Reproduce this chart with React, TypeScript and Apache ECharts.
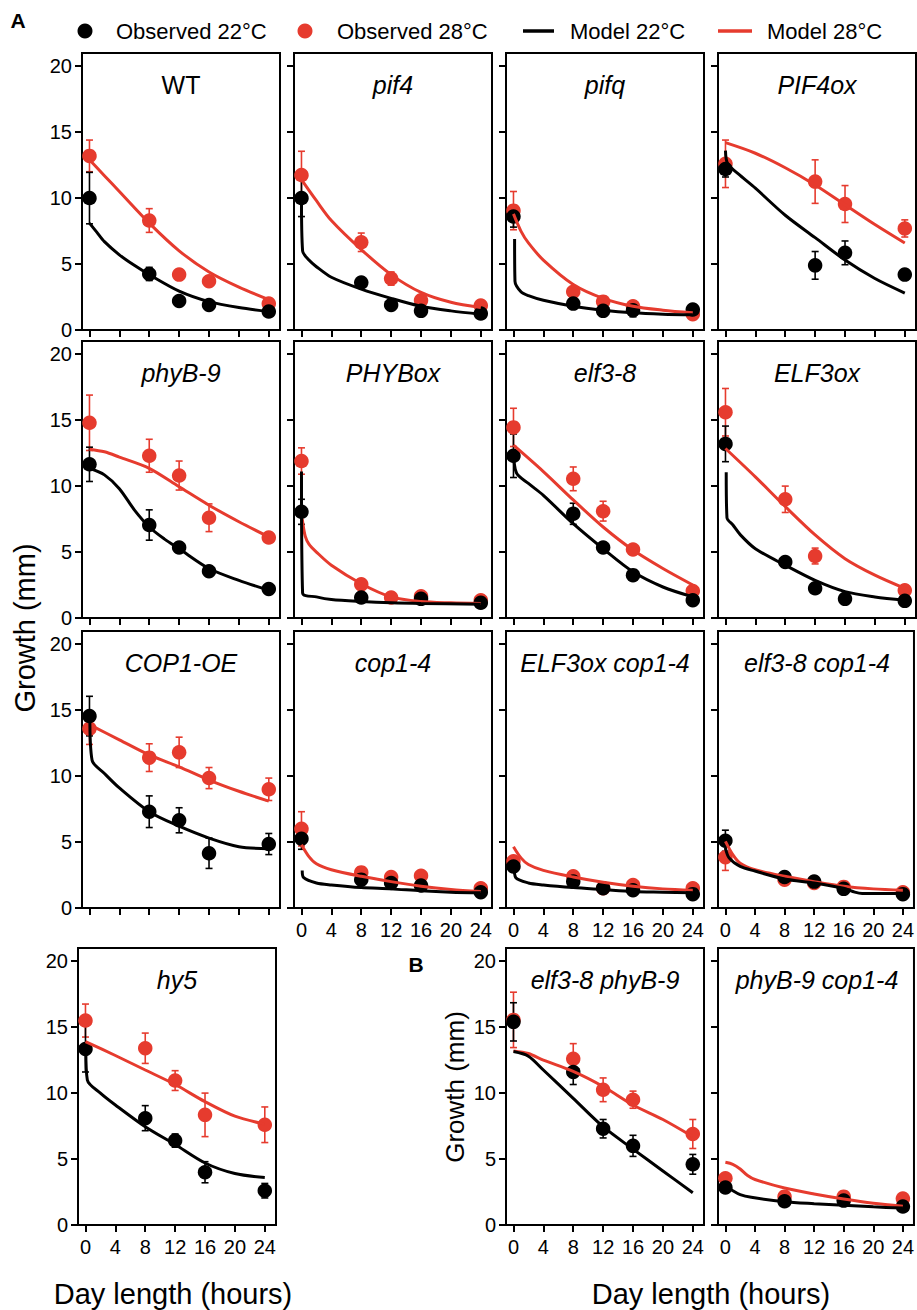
import React, { useEffect, useRef } from "react";
import * as echarts from "echarts";

const FONT = '"Liberation Sans", Arial, Helvetica, sans-serif';
const RED = "#E63B2E";
const BLACK = "#000000";

// ---------- shared axis data ----------
const obsHours = [0, 8, 12, 16, 24];
const xTickValues = [0, 4, 8, 12, 16, 20, 24];
const yTickValues = [0, 5, 10, 15, 20];
const legendLabels = ["Observed 22°C", "Observed 28°C", "Model 22°C", "Model 28°C"];
const xAxisTitle = "Day length (hours)";
const yAxisTitle = "Growth (mm)";

// ---------- WT ----------
const wtObs22 = [10.0, 4.25, 2.2, 1.9, 1.4];
const wtErr22 = [1.95, 0.5, 0, 0, 0];
const wtObs28 = [13.2, 8.3, 4.2, 3.7, 2.0];
const wtErr28 = [1.2, 0.9, 0, 0, 0];
const wtModel22 = [[0, 8.1], [1, 7.4], [2, 6.7], [4, 5.7], [6, 4.9], [8, 4.2], [12, 2.95], [16, 2.15], [20, 1.7], [24, 1.4]];
const wtModel28 = [[0, 12.9], [2, 11.7], [4, 10.5], [8, 8.1], [12, 6.0], [16, 4.4], [20, 3.25], [24, 2.3]];

// ---------- pif4 ----------
const pif4Obs22 = [10.0, 3.6, 1.9, 1.45, 1.25];
const pif4Err22 = [1.4, 0, 0, 0, 0];
const pif4Obs28 = [11.75, 6.65, 3.9, 2.25, 1.85];
const pif4Err28 = [1.8, 0.7, 0.5, 0, 0];
const pif4Model22 = [[0, 10.0], [0.15, 6.0], [1, 5.3], [2, 4.8], [4, 4.0], [8, 3.1], [12, 2.4], [16, 1.8], [20, 1.45], [24, 1.2]];
const pif4Model28 = [[0, 11.4], [2, 9.8], [4, 8.3], [8, 6.1], [12, 4.2], [16, 2.85], [20, 2.1], [24, 1.7]];

// ---------- pifq ----------
const pifqObs22 = [8.6, 2.0, 1.45, 1.5, 1.55];
const pifqErr22 = [0.8, 0, 0.3, 0.5, 0];
const pifqObs28 = [9.05, 2.9, 2.15, 1.8, 1.2];
const pifqErr28 = [1.45, 0, 0, 0, 0];
const pifqModel22 = [[0.15, 6.9], [0.2, 3.7], [1, 2.9], [2, 2.6], [4, 2.25], [8, 1.8], [12, 1.5], [16, 1.3], [20, 1.2], [24, 1.15]];
const pifqModel28 = [[0, 8.8], [1, 7.5], [2, 6.6], [4, 5.3], [8, 3.45], [12, 2.4], [16, 1.8], [20, 1.5], [24, 1.3]];

// ---------- PIF4ox ----------
const pif4oxObs22 = [12.2, null, 4.9, 5.85, 4.2];
const pif4oxErr22 = [0.6, 0, 1.05, 0.9, 0];
const pif4oxObs28 = [12.6, null, 11.25, 9.55, 7.7];
const pif4oxErr28 = [1.8, 0, 1.65, 1.4, 0.65];
const pif4oxModel22 = [[0, 13.6], [0.3, 12.6], [2, 11.7], [4, 10.75], [8, 8.7], [12, 7.0], [16, 5.3], [20, 3.9], [24, 2.8]];
const pif4oxModel28 = [[0, 14.2], [4, 13.4], [8, 12.3], [12, 11.0], [16, 9.5], [20, 8.0], [24, 6.6]];

// ---------- phyB-9 ----------
const phyb9Obs22 = [11.65, 7.05, 5.35, 3.55, 2.2];
const phyb9Err22 = [1.3, 1.15, 0, 0, 0];
const phyb9Obs28 = [14.8, 12.3, 10.8, 7.6, 6.1];
const phyb9Err28 = [2.1, 1.25, 1.1, 1.05, 0];
const phyb9Model22 = [[0, 11.35], [2, 10.85], [4, 9.8], [6, 8.2], [8, 6.9], [10, 6.0], [12, 5.25], [16, 3.75], [20, 2.85], [24, 2.1]];
const phyb9Model28 = [[0, 12.8], [2, 12.6], [4, 12.2], [8, 11.35], [12, 9.95], [16, 8.55], [20, 7.3], [24, 6.15]];

// ---------- PHYBox ----------
const phyboxObs22 = [8.05, 1.55, null, 1.45, 1.15];
const phyboxErr22 = [0.95, 0, 0, 0, 0];
const phyboxObs28 = [11.9, 2.55, 1.55, 1.65, 1.35];
const phyboxErr28 = [1.0, 0.3, 0, 0, 0];
const phyboxModel22 = [[0, 11.1], [0.15, 1.9], [2, 1.6], [4, 1.4], [8, 1.25], [12, 1.15], [16, 1.1], [24, 1.05]];
const phyboxModel28 = [[0.1, 7.5], [0.5, 6.2], [1, 5.6], [2, 5.0], [4, 4.0], [8, 2.6], [12, 1.6], [16, 1.25], [20, 1.15], [24, 1.1]];

// ---------- elf3-8 ----------
const elf38Obs22 = [12.3, 7.9, 5.35, 3.25, 1.35];
const elf38Err22 = [1.65, 0.8, 0, 0, 0];
const elf38Obs28 = [14.45, 10.55, 8.1, 5.2, 2.05];
const elf38Err28 = [1.45, 0.9, 0.75, 0, 0];
const elf38Model22 = [[0, 12.8], [0.4, 11.0], [2, 10.2], [4, 9.3], [8, 7.15], [12, 5.25], [16, 3.5], [20, 2.35], [24, 1.6]];
const elf38Model28 = [[0, 13.1], [4, 11.1], [8, 8.95], [12, 6.9], [16, 5.15], [20, 3.75], [24, 2.5]];

// ---------- ELF3ox ----------
const elf3oxObs22 = [13.2, 4.25, 2.25, 1.45, 1.3];
const elf3oxErr22 = [1.35, 0, 0, 0, 0];
const elf3oxObs28 = [15.6, 9.0, 4.7, null, 2.1];
const elf3oxErr28 = [1.8, 1.0, 0.6, 0, 0];
const elf3oxModel22 = [[0.1, 11.05], [0.2, 7.6], [1, 7.05], [2, 6.3], [4, 5.25], [8, 4.0], [12, 2.85], [16, 2.0], [20, 1.6], [24, 1.35]];
const elf3oxModel28 = [[0, 12.85], [4, 10.7], [8, 8.45], [12, 6.3], [16, 4.5], [20, 3.25], [24, 2.25]];

// ---------- COP1-OE ----------
const cop1oeObs22 = [14.55, 7.3, 6.65, 4.15, 4.85];
const cop1oeErr22 = [1.5, 1.2, 0.95, 1.15, 0.8];
const cop1oeObs28 = [13.6, 11.4, 11.8, 9.85, 9.0];
const cop1oeErr28 = [1.2, 1.05, 1.15, 0.8, 0.85];
const cop1oeModel22 = [[0.05, 14.5], [0.35, 11.2], [2, 10.2], [4, 9.1], [8, 7.3], [12, 6.2], [16, 5.3], [20, 4.65], [24, 4.5]];
const cop1oeModel28 = [[0, 13.9], [4, 12.75], [8, 11.6], [12, 10.7], [16, 9.7], [20, 8.85], [24, 8.1]];

// ---------- cop1-4 ----------
const cop14Obs22 = [5.25, 2.15, 1.9, 1.7, 1.2];
const cop14Err22 = [0.8, 0, 0, 0, 0];
const cop14Obs28 = [6.0, 2.7, 2.35, 2.45, 1.5];
const cop14Err28 = [1.3, 0, 0, 0, 0];
const cop14Model22 = [[0.1, 2.85], [0.3, 2.3], [2, 1.9], [4, 1.75], [8, 1.55], [12, 1.45], [16, 1.3], [20, 1.2], [24, 1.15]];
const cop14Model28 = [[0, 4.8], [1, 3.9], [2, 3.35], [4, 2.9], [8, 2.4], [12, 2.0], [16, 1.65], [20, 1.4], [24, 1.25]];

// ---------- ELF3ox cop1-4 ----------
const elf3oxCop14Obs22 = [3.15, 2.0, 1.5, 1.35, 1.05];
const elf3oxCop14Err22 = [0.4, 0, 0, 0, 0];
const elf3oxCop14Obs28 = [3.55, 2.4, 1.5, 1.75, 1.5];
const elf3oxCop14Err28 = [0, 0, 0, 0, 0];
const elf3oxCop14Model22 = [[0.1, 3.1], [0.3, 2.3], [2, 1.9], [4, 1.75], [8, 1.55], [12, 1.4], [16, 1.25], [20, 1.2], [24, 1.15]];
const elf3oxCop14Model28 = [[0, 4.65], [1, 3.8], [2, 3.3], [4, 2.85], [8, 2.35], [12, 1.95], [16, 1.65], [20, 1.45], [24, 1.35]];

// ---------- elf3-8 cop1-4 ----------
const elf38Cop14Obs22 = [5.1, 2.35, 2.0, 1.45, 1.05];
const elf38Cop14Err22 = [0.8, 0, 0, 0, 0];
const elf38Cop14Obs28 = [3.85, 2.15, 1.9, 1.6, 1.2];
const elf38Cop14Err28 = [1.0, 0, 0, 0, 0];
const elf38Cop14Model22 = [[0, 4.55], [0.5, 3.8], [2, 3.15], [4, 2.8], [8, 2.2], [12, 1.9], [16, 1.5], [17.5, 1.2], [18.5, 1.1], [20, 1.1], [24, 1.1]];
const elf38Cop14Model28 = [[0, 5.05], [1, 4.05], [2, 3.4], [4, 2.9], [8, 2.4], [12, 2.0], [16, 1.65], [20, 1.45], [24, 1.35]];

// ---------- hy5 ----------
const hy5Obs22 = [13.35, 8.1, 6.4, 4.0, 2.6];
const hy5Err22 = [1.75, 0.95, 0.5, 0.8, 0.55];
const hy5Obs28 = [15.5, 13.4, 10.95, 8.35, 7.6];
const hy5Err28 = [1.25, 1.15, 0.75, 1.65, 1.35];
const hy5Model22 = [[0.05, 13.3], [0.25, 11.0], [2, 10.0], [4, 9.1], [8, 7.45], [12, 6.1], [16, 4.7], [20, 3.9], [24, 3.6]];
const hy5Model28 = [[0, 13.9], [4, 12.85], [8, 11.75], [12, 10.65], [16, 9.35], [20, 8.25], [24, 7.65]];

// ---------- elf3-8 phyB-9 ----------
const elf38Phyb9Obs22 = [15.4, 11.6, 7.3, 6.0, 4.6];
const elf38Phyb9Err22 = [1.45, 0.95, 0.7, 0.8, 0.75];
const elf38Phyb9Obs28 = [15.55, 12.6, 10.25, 9.5, 6.9];
const elf38Phyb9Err28 = [2.1, 1.15, 0.9, 0.65, 1.1];
const elf38Phyb9Model22 = [[0, 13.15], [2, 12.8], [4, 11.75], [8, 9.6], [12, 7.45], [16, 5.75], [20, 4.1], [24, 2.45]];
const elf38Phyb9Model28 = [[0, 13.2], [2, 13.0], [4, 12.5], [8, 11.65], [12, 10.5], [16, 9.1], [20, 8.0], [24, 6.7]];

// ---------- phyB-9 cop1-4 ----------
const phyb9Cop14Obs22 = [2.85, 1.8, null, 1.85, 1.4];
const phyb9Cop14Err22 = [0, 0, 0, 0, 0];
const phyb9Cop14Obs28 = [3.55, 2.15, null, 2.15, 2.0];
const phyb9Cop14Err28 = [0, 0, 0, 0, 0];
const phyb9Cop14Model22 = [[0, 2.95], [1, 2.6], [2, 2.3], [3.5, 2.1], [8, 1.77], [12, 1.62], [16, 1.5], [20, 1.38], [24, 1.28]];
const phyb9Cop14Model28 = [[0, 4.75], [1, 4.6], [2, 4.25], [3, 3.75], [4, 3.45], [8, 2.8], [12, 2.35], [16, 1.97], [20, 1.65], [24, 1.43]];

// ---------- layout ----------
const ROW_TOPS = [53, 341, 631, 948];
const COL_LEFTS = [82, 294, 506, 718];
const GRID_W = 198;
const GRID_H = 277;

type Panel = {
  title: string; italic: boolean; row: number; col: number; leftShift?: number;
  xLabels: boolean; yLabels: boolean;
  obs22: (number | null)[]; err22: number[]; obs28: (number | null)[]; err28: number[];
  m22: number[][]; m28: number[][];
};

const panels: Panel[] = [
  { title: "WT", italic: false, row: 0, col: 0, xLabels: false, yLabels: true, obs22: wtObs22, err22: wtErr22, obs28: wtObs28, err28: wtErr28, m22: wtModel22, m28: wtModel28 },
  { title: "pif4", italic: true, row: 0, col: 1, xLabels: false, yLabels: false, obs22: pif4Obs22, err22: pif4Err22, obs28: pif4Obs28, err28: pif4Err28, m22: pif4Model22, m28: pif4Model28 },
  { title: "pifq", italic: true, row: 0, col: 2, xLabels: false, yLabels: false, obs22: pifqObs22, err22: pifqErr22, obs28: pifqObs28, err28: pifqErr28, m22: pifqModel22, m28: pifqModel28 },
  { title: "PIF4ox", italic: true, row: 0, col: 3, xLabels: false, yLabels: false, obs22: pif4oxObs22, err22: pif4oxErr22, obs28: pif4oxObs28, err28: pif4oxErr28, m22: pif4oxModel22, m28: pif4oxModel28 },
  { title: "phyB-9", italic: true, row: 1, col: 0, xLabels: false, yLabels: true, obs22: phyb9Obs22, err22: phyb9Err22, obs28: phyb9Obs28, err28: phyb9Err28, m22: phyb9Model22, m28: phyb9Model28 },
  { title: "PHYBox", italic: true, row: 1, col: 1, xLabels: false, yLabels: false, obs22: phyboxObs22, err22: phyboxErr22, obs28: phyboxObs28, err28: phyboxErr28, m22: phyboxModel22, m28: phyboxModel28 },
  { title: "elf3-8", italic: true, row: 1, col: 2, xLabels: false, yLabels: false, obs22: elf38Obs22, err22: elf38Err22, obs28: elf38Obs28, err28: elf38Err28, m22: elf38Model22, m28: elf38Model28 },
  { title: "ELF3ox", italic: true, row: 1, col: 3, xLabels: false, yLabels: false, obs22: elf3oxObs22, err22: elf3oxErr22, obs28: elf3oxObs28, err28: elf3oxErr28, m22: elf3oxModel22, m28: elf3oxModel28 },
  { title: "COP1-OE", italic: true, row: 2, col: 0, xLabels: false, yLabels: true, obs22: cop1oeObs22, err22: cop1oeErr22, obs28: cop1oeObs28, err28: cop1oeErr28, m22: cop1oeModel22, m28: cop1oeModel28 },
  { title: "cop1-4", italic: true, row: 2, col: 1, xLabels: true, yLabels: false, obs22: cop14Obs22, err22: cop14Err22, obs28: cop14Obs28, err28: cop14Err28, m22: cop14Model22, m28: cop14Model28 },
  { title: "ELF3ox cop1-4", italic: true, row: 2, col: 2, xLabels: true, yLabels: false, obs22: elf3oxCop14Obs22, err22: elf3oxCop14Err22, obs28: elf3oxCop14Obs28, err28: elf3oxCop14Err28, m22: elf3oxCop14Model22, m28: elf3oxCop14Model28 },
  { title: "elf3-8 cop1-4", italic: true, row: 2, col: 3, xLabels: true, yLabels: false, obs22: elf38Cop14Obs22, err22: elf38Cop14Err22, obs28: elf38Cop14Obs28, err28: elf38Cop14Err28, m22: elf38Cop14Model22, m28: elf38Cop14Model28 },
  { title: "hy5", italic: true, row: 3, col: 0, leftShift: -4, xLabels: true, yLabels: true, obs22: hy5Obs22, err22: hy5Err22, obs28: hy5Obs28, err28: hy5Err28, m22: hy5Model22, m28: hy5Model28 },
  { title: "elf3-8 phyB-9", italic: true, row: 3, col: 2, xLabels: true, yLabels: true, obs22: elf38Phyb9Obs22, err22: elf38Phyb9Err22, obs28: elf38Phyb9Obs28, err28: elf38Phyb9Err28, m22: elf38Phyb9Model22, m28: elf38Phyb9Model28 },
  { title: "phyB-9 cop1-4", italic: true, row: 3, col: 3, xLabels: true, yLabels: false, obs22: phyb9Cop14Obs22, err22: phyb9Cop14Err22, obs28: phyb9Cop14Obs28, err28: phyb9Cop14Err28, m22: phyb9Cop14Model22, m28: phyb9Cop14Model28 },
];

function errorRender(color: string) {
  return (params: any, api: any) => {
    const x = api.value(0);
    const lo = api.value(1);
    const hi = api.value(2);
    const p1 = api.coord([x, hi]);
    const p2 = api.coord([x, lo]);
    const w = 3.5;
    const st = { stroke: color, lineWidth: 1.6 };
    return {
      type: "group",
      children: [
        { type: "line", shape: { x1: p1[0], y1: p1[1], x2: p2[0], y2: p2[1] }, style: st },
        { type: "line", shape: { x1: p1[0] - w, y1: p1[1], x2: p1[0] + w, y2: p1[1] }, style: st },
        { type: "line", shape: { x1: p2[0] - w, y1: p2[1], x2: p2[0] + w, y2: p2[1] }, style: st },
      ],
    };
  };
}

function buildOption() {
  const grid: any[] = [];
  const xAxis: any[] = [];
  const yAxis: any[] = [];
  const series: any[] = [];
  const graphic: any[] = [];

  panels.forEach((p, i) => {
    const left = COL_LEFTS[p.col] + (p.leftShift || 0);
    const top = ROW_TOPS[p.row];
    grid.push({ left, top, width: GRID_W, height: GRID_H, show: true, borderColor: BLACK, borderWidth: 2, backgroundColor: "transparent" });
    xAxis.push({
      type: "value", gridIndex: i, min: -1, max: 25.5,
      axisLine: { show: true, onZero: false, lineStyle: { color: BLACK, width: 2 } },
      axisTick: { show: true, customValues: xTickValues, length: 7, lineStyle: { color: BLACK, width: 2 } },
      axisLabel: { show: p.xLabels, customValues: xTickValues, margin: 12, fontSize: 20, color: BLACK, fontFamily: FONT },
      splitLine: { show: false },
    });
    yAxis.push({
      type: "value", gridIndex: i, min: 0, max: 21,
      axisLine: { show: true, onZero: false, lineStyle: { color: BLACK, width: 2 } },
      axisTick: { show: true, customValues: yTickValues, length: 7, lineStyle: { color: BLACK, width: 2 } },
      axisLabel: { show: p.yLabels, customValues: yTickValues, margin: 10, fontSize: 20, color: BLACK, fontFamily: FONT },
      splitLine: { show: false },
    });

    const lineBase = { type: "line", xAxisIndex: i, yAxisIndex: i, symbol: "none", showSymbol: false, smooth: 0.3, silent: true };
    series.push({ ...lineBase, name: legendLabels[3], data: p.m28, lineStyle: { color: RED, width: 3 }, itemStyle: { color: RED } });
    series.push({ ...lineBase, name: legendLabels[2], data: p.m22, lineStyle: { color: BLACK, width: 3 }, itemStyle: { color: BLACK } });

    const errData = (obs: (number | null)[], err: number[]) =>
      obsHours
        .map((h, k) => (obs[k] != null && err[k] > 0 ? [h, (obs[k] as number) - err[k], (obs[k] as number) + err[k]] : null))
        .filter((d) => d != null);
    const ptData = (obs: (number | null)[]) =>
      obsHours.map((h, k) => (obs[k] != null ? [h, obs[k]] : null)).filter((d) => d != null);

    series.push({ type: "custom", xAxisIndex: i, yAxisIndex: i, data: errData(p.obs28, p.err28), renderItem: errorRender(RED), silent: true });
    series.push({ type: "scatter", name: legendLabels[1], xAxisIndex: i, yAxisIndex: i, data: ptData(p.obs28), symbol: "circle", symbolSize: 14.5, itemStyle: { color: RED, opacity: 1 }, silent: true });
    series.push({ type: "custom", xAxisIndex: i, yAxisIndex: i, data: errData(p.obs22, p.err22), renderItem: errorRender(BLACK), silent: true });
    series.push({ type: "scatter", name: legendLabels[0], xAxisIndex: i, yAxisIndex: i, data: ptData(p.obs22), symbol: "circle", symbolSize: 14.5, itemStyle: { color: BLACK, opacity: 1 }, silent: true });

    graphic.push({
      type: "text", x: left + GRID_W / 2, y: top + 32, silent: true,
      style: { text: p.title, fontSize: 25, fontStyle: p.italic ? "italic" : "normal", fontFamily: FONT, fill: BLACK, align: "center", verticalAlign: "middle" },
    });
  });

  // Legend
  const legY = 31;
  graphic.push({ type: "circle", shape: { cx: 85, cy: legY, r: 7.5 }, style: { fill: BLACK } });
  graphic.push({ type: "text", x: 116, y: legY, style: { text: legendLabels[0], fontSize: 22, fontFamily: FONT, fill: BLACK, align: "left", verticalAlign: "middle" } });
  graphic.push({ type: "circle", shape: { cx: 305, cy: legY, r: 7.5 }, style: { fill: RED } });
  graphic.push({ type: "text", x: 337, y: legY, style: { text: legendLabels[1], fontSize: 22, fontFamily: FONT, fill: BLACK, align: "left", verticalAlign: "middle" } });
  graphic.push({ type: "line", shape: { x1: 523, y1: legY, x2: 554, y2: legY }, style: { stroke: BLACK, lineWidth: 3.5 } });
  graphic.push({ type: "text", x: 570, y: legY, style: { text: legendLabels[2], fontSize: 22, fontFamily: FONT, fill: BLACK, align: "left", verticalAlign: "middle" } });
  graphic.push({ type: "line", shape: { x1: 718, y1: legY, x2: 752, y2: legY }, style: { stroke: RED, lineWidth: 3.5 } });
  graphic.push({ type: "text", x: 767, y: legY, style: { text: legendLabels[3], fontSize: 22, fontFamily: FONT, fill: BLACK, align: "left", verticalAlign: "middle" } });

  // Panel letters
  graphic.push({ type: "text", x: 18, y: 20, style: { text: "A", fontSize: 21, fontWeight: "bold", fontFamily: FONT, fill: BLACK, align: "center", verticalAlign: "middle" } });
  graphic.push({ type: "text", x: 416, y: 964, style: { text: "B", fontSize: 21, fontWeight: "bold", fontFamily: FONT, fill: BLACK, align: "center", verticalAlign: "middle" } });

  // Axis titles
  graphic.push({ type: "text", x: 25, y: 628, rotation: Math.PI / 2, style: { text: yAxisTitle, fontSize: 29, fontFamily: FONT, fill: BLACK, align: "center", verticalAlign: "middle" } });
  graphic.push({ type: "text", x: 455, y: 1087, rotation: Math.PI / 2, style: { text: yAxisTitle, fontSize: 26, fontFamily: FONT, fill: BLACK, align: "center", verticalAlign: "middle" } });
  graphic.push({ type: "text", x: 173, y: 1294, style: { text: xAxisTitle, fontSize: 29, fontFamily: FONT, fill: BLACK, align: "center", verticalAlign: "middle" } });
  graphic.push({ type: "text", x: 711, y: 1294, style: { text: xAxisTitle, fontSize: 29, fontFamily: FONT, fill: BLACK, align: "center", verticalAlign: "middle" } });

  return {
    animation: false,
    backgroundColor: "#ffffff",
    textStyle: { fontFamily: FONT },
    grid, xAxis, yAxis, series, graphic,
  };
}

export default function App() {
  const ref = useRef<HTMLDivElement>(null);
  useEffect(() => {
    if (!ref.current) return;
    const chart = echarts.init(ref.current, undefined, { renderer: "svg" });
    chart.setOption(buildOption() as any);
    return () => chart.dispose();
  }, []);
  return <div ref={ref} style={{ position: "absolute", left: 0, top: 0, width: 917, height: 1310 }} />;
}
